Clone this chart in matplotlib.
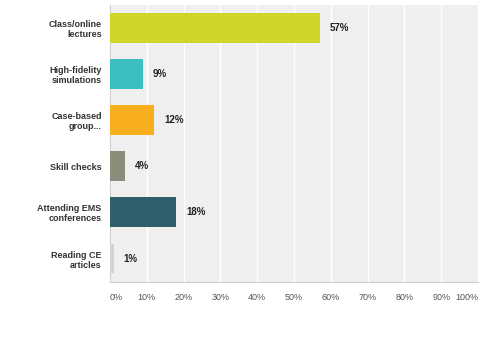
import matplotlib.pyplot as plt

plt.rcParams['font.family'] = ['Liberation Sans', 'DejaVu Sans']

# answer options and share of respondents (%)
categories = ['Class/online\nlectures', 'High-fidelity\nsimulations', 'Case-based\ngroup...',
              'Skill checks', 'Attending EMS\nconferences', 'Reading CE\narticles']
values = [57, 9, 12, 4, 18, 1]
bar_colors = ['#d0d628', '#3cbfc0', '#f8ae1e', '#8c8c7a', '#2e5f6b', '#d4d4ca']
ticks = [0, 10, 20, 30, 40, 50, 60, 70, 80, 90, 100]

fig = plt.figure(figsize=(5, 3.38), dpi=100)
ax = fig.add_axes([0.22, 0.167, 0.736, 0.818])
ax.set_facecolor('#efefef')

y = list(range(len(categories)))
ax.barh(y, values, height=0.65, color=bar_colors, zorder=3)
for i, v in enumerate(values):
    ax.text(v + 2.7, i, '%d%%' % v, va='center', ha='left',
            fontsize=7, fontweight='bold', color='#222222', zorder=4)

ax.set_xlim(0, 100)
ax.set_ylim(len(categories) - 0.5, -0.5)
ax.set_yticks(y)
ax.set_yticklabels(categories, fontsize=6.5, fontweight='bold', color='#333333',
                   linespacing=1.15)
ax.set_xticks(ticks)
ax.set_xticklabels(['%d%%' % t for t in ticks], fontsize=6.5, color='#555555')
labels = ax.get_xticklabels()
labels[0].set_ha('left')
labels[-1].set_ha('right')

ax.grid(axis='x', color='white', lw=1, zorder=1)
ax.tick_params(length=0)
ax.tick_params(axis='x', pad=8)
ax.tick_params(axis='y', pad=6)
for side in ['top', 'right']:
    ax.spines[side].set_visible(False)
ax.spines['left'].set_color('#cfcfcf')
ax.spines['bottom'].set_color('#cfcfcf')

fig.savefig('out.png', dpi=100)
